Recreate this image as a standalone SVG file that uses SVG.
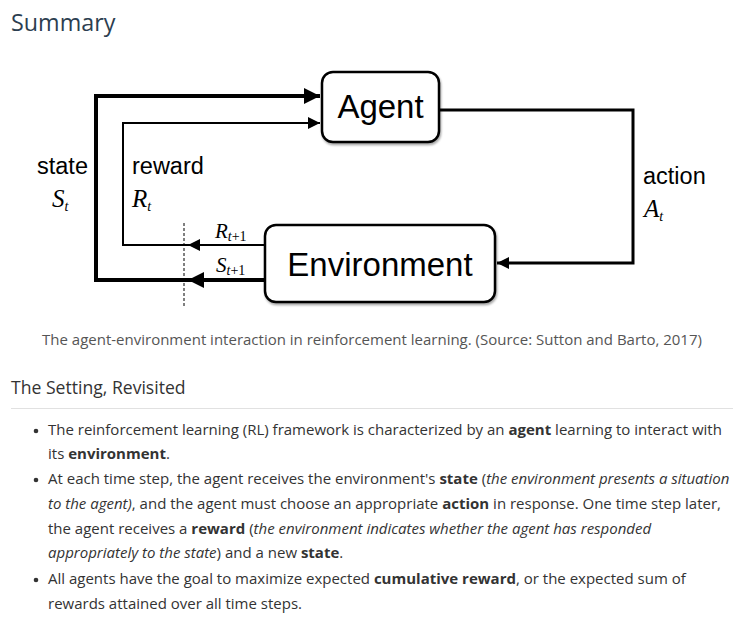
<svg xmlns="http://www.w3.org/2000/svg" width="744" height="635" viewBox="0 0 744 635">
<style>
.sans{font-family:"Liberation Sans",Arial,sans-serif;fill:#000}
.math{font-family:"Liberation Serif","Times New Roman",serif;font-style:italic;fill:#000}
.sub{font-size:14px}
.box{fill:#fff;stroke:#000;stroke-width:2.5}
.page{font-family:"Open Sans","Noto Sans",sans-serif;fill:#333}
.b{font-weight:bold}
.i{font-style:italic}
</style>
<defs>
<marker id="ah" viewBox="0 0 10 10" refX="10" refY="5" markerWidth="5" markerHeight="4" markerUnits="strokeWidth" orient="auto"><path d="M0,0L10,5L0,10z" fill="#000"/></marker>
<marker id="ahs" viewBox="0 0 10 10" refX="10" refY="5" markerWidth="9" markerHeight="6" markerUnits="strokeWidth" orient="auto"><path d="M0,0L10,5L0,10z" fill="#000"/></marker>
<filter id="sh" x="-10%" y="-10%" width="130%" height="140%"><feDropShadow dx="1" dy="2" stdDeviation="1.2" flood-color="#000" flood-opacity="0.35"/></filter>
</defs>
<rect width="744" height="635" fill="#fff"/>
<text x="11" y="31" class="page" font-size="23.3" style="fill:#2c3e50">Summary</text>

<g id="connectors" fill="none" stroke="#000">
<path d="M265,280H96V96H320" stroke-width="4" marker-end="url(#ah)"/>
<path d="M265,245H123V123H320" stroke-width="2" marker-end="url(#ahs)"/>
<path d="M439,110H633V263H497" stroke-width="3" marker-end="url(#ah)"/>
<line x1="265" y1="245" x2="188" y2="245" stroke-width="2" marker-end="url(#ahs)"/>
<line x1="265" y1="280" x2="188" y2="280" stroke-width="4" marker-end="url(#ah)"/>
<line x1="184" y1="223" x2="184" y2="306" stroke-width="1" stroke-dasharray="3,2"/>
</g>

<g id="agent">
<rect x="322" y="72" width="117" height="70" rx="11" class="box" filter="url(#sh)"/>
<text x="380.5" y="118" class="sans" font-size="33" text-anchor="middle">Agent</text>
</g>
<g id="environment">
<rect x="265" y="225" width="230" height="77" rx="11" class="box" filter="url(#sh)"/>
<text x="380" y="276" class="sans" font-size="33" text-anchor="middle">Environment</text>
</g>

<g id="labels">
<text x="37" y="174" class="sans" font-size="23.5">state</text>
<text x="52" y="207" class="math" font-size="25">S<tspan class="sub" dy="4">t</tspan></text>
<text x="132" y="174" class="sans" font-size="23.5">reward</text>
<text x="132" y="207" class="math" font-size="25">R<tspan class="sub" dy="4">t</tspan></text>
<text x="643" y="184" class="sans" font-size="23.5">action</text>
<text x="644" y="217" class="math" font-size="25">A<tspan class="sub" dy="4">t</tspan></text>
<text x="215" y="238" class="math" font-size="21">R<tspan class="sub" dy="3">t</tspan><tspan class="sub" font-style="normal">+1</tspan></text>
<text x="216" y="272" class="math" font-size="21">S<tspan class="sub" dy="3">t</tspan><tspan class="sub" font-style="normal">+1</tspan></text>
</g>

<text x="372" y="345" class="page" font-size="15" text-anchor="middle" style="fill:#555">The agent-environment interaction in reinforcement learning. (Source: Sutton and Barto, 2017)</text>
<text x="11" y="394" class="page" font-size="17.6">The Setting, Revisited</text>
<line x1="11" y1="408.5" x2="733" y2="408.5" stroke="#e1e1e1" stroke-width="1"/>

<g class="page" font-size="15">
<circle cx="36" cy="431" r="2.3" fill="#333"/>
<circle cx="36" cy="480" r="2.3" fill="#333"/>
<circle cx="36" cy="580" r="2.3" fill="#333"/>
<text x="48" y="435" class="page">The reinforcement learning (RL) framework is characterized by an <tspan class="b">agent</tspan> learning to interact with</text>
<text x="48" y="459" class="page">its <tspan class="b">environment</tspan>.</text>
<text x="48" y="484" class="page">At each time step, the agent receives the environment's <tspan class="b">state</tspan> (<tspan class="i">the environment presents a situation</tspan></text>
<text x="48" y="509" class="page"><tspan class="i">to the agent)</tspan>, and the agent must choose an appropriate <tspan class="b">action</tspan> in response. One time step later,</text>
<text x="48" y="534" class="page">the agent receives a <tspan class="b">reward</tspan> (<tspan class="i">the environment indicates whether the agent has responded</tspan></text>
<text x="48" y="558" class="page"><tspan class="i">appropriately to the state</tspan>) and a new <tspan class="b">state</tspan>.</text>
<text x="48" y="584" class="page">All agents have the goal to maximize expected <tspan class="b">cumulative reward</tspan>, or the expected sum of</text>
<text x="48" y="609" class="page">rewards attained over all time steps.</text>
</g>
</svg>
